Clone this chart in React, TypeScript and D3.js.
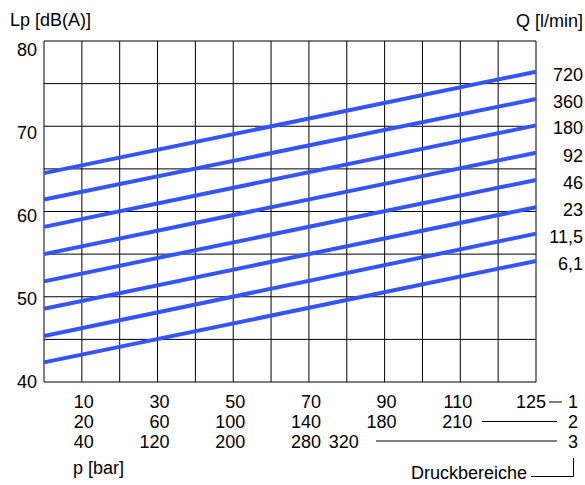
import React from 'react';
import * as d3 from 'd3';

// Flow rate curves Q [l/min]: sound pressure level at left (p=0) and right (max p) of grid
const flowLabels = ['720', '360', '180', '92', '46', '23', '11,5', '6,1'];
const lpStart = [64.5, 61.4, 58.2, 55.0, 51.8, 48.6, 45.4, 42.3];
const lpEnd = [76.4, 73.2, 70.1, 66.9, 63.7, 60.5, 57.4, 54.2];

// Y axis
const yTickValues = [40, 50, 60, 70, 80];
const yGridValues = [40, 45, 50, 55, 60, 65, 70, 75, 80];

// Grid columns
const gridColumns = 13;

// Pressure ranges (tick labels) and grid column they sit at
const range1Labels = ['10', '30', '50', '70', '90', '110', '125'];
const range1Cols = [1, 3, 5, 7, 9, 11, 13];
const range2Labels = ['20', '60', '100', '140', '180', '210'];
const range2Cols = [1, 3, 5, 7, 9, 11];
const range3Labels = ['40', '120', '200', '280', '320'];
const range3Cols = [1, 3, 5, 7, 8];

const W = 585;
const H = 485;
const left = 44;
const right = 536;
const top = 41;
const bottom = 382;
const FONT = '"Liberation Sans", Arial, Helvetica, sans-serif';
const FS = 18;
const BLUE = '#3355ff';

export default function App() {
  const x = d3.scaleLinear().domain([0, gridColumns]).range([left, right]);
  const y = d3.scaleLinear().domain([40, 80]).range([bottom, top]);
  const yLabel = d3.scaleLinear().domain([40, 80]).range([381.5, 50]);
  const line = d3.line<[number, number]>().x((d) => x(d[0])).y((d) => y(d[1]));
  const cols = d3.range(gridColumns + 1);
  const rowBase = [408, 428, 447.5];
  const rows = [
    { labels: range1Labels, cols: range1Cols },
    { labels: range2Labels, cols: range2Cols },
    { labels: range3Labels, cols: range3Cols },
  ];
  const colOffset = 12;

  return (
    <svg
      width={W}
      height={H}
      style={{ position: 'absolute', left: 0, top: 0, background: '#fff' }}
      fontFamily={FONT}
      fontSize={FS}
    >
      <rect x={0} y={0} width={W} height={H} fill="#fff" />
      {/* grid */}
      {yGridValues.map((v) => (
        <line key={'h' + v} x1={left} x2={right} y1={y(v)} y2={y(v)} stroke="#000" strokeWidth={1} />
      ))}
      {cols.map((c) => (
        <line key={'v' + c} x1={x(c)} x2={x(c)} y1={top} y2={bottom} stroke="#000" strokeWidth={1} />
      ))}
      {/* curves */}
      {flowLabels.map((f, i) => (
        <path
          key={'c' + f}
          d={line([[0, lpStart[i]], [gridColumns, lpEnd[i]]]) || ''}
          fill="none"
          stroke={BLUE}
          strokeWidth={4}
        />
      ))}
      {/* curve labels */}
      {flowLabels.map((f, i) => (
        <text key={'l' + f} x={583} y={y(lpEnd[i]) + 3} textAnchor="end" dominantBaseline="central">
          {f}
        </text>
      ))}
      {/* y tick labels */}
      {yTickValues.map((v) => (
        <text key={'y' + v} x={37} y={yLabel(v)} textAnchor="end" dominantBaseline="central">
          {v}
        </text>
      ))}
      {/* axis titles */}
      <text x={10} y={26}>Lp [dB(A)]</text>
      <text x={583} y={27} textAnchor="end">Q [l/min]</text>
      {/* pressure rows */}
      {rows.map((r, ri) =>
        r.labels.map((lab, li) => (
          <text
            key={'r' + ri + '-' + li}
            x={x(r.cols[li]) + (r.cols[li] === gridColumns ? 10 : colOffset)}
            y={rowBase[ri]}
            textAnchor="end"
          >
            {lab}
          </text>
        ))
      )}
      {/* range leader lines */}
      <line x1={549} x2={562} y1={402} y2={402} stroke="#000" strokeWidth={1} />
      <line x1={482} x2={557} y1={421.5} y2={421.5} stroke="#000" strokeWidth={1} />
      <line x1={376} x2={557} y1={441} y2={441} stroke="#000" strokeWidth={1} />
      {['1', '2', '3'].map((d, i) => (
        <text key={'d' + d} x={578} y={rowBase[i]} textAnchor="end">
          {d}
        </text>
      ))}
      <text x={73} y={474}>p [bar]</text>
      <text x={527} y={479} textAnchor="end">Druckbereiche</text>
      <polyline points="531,476.5 573.5,476.5 573.5,458" fill="none" stroke="#000" strokeWidth={1} />
    </svg>
  );
}
